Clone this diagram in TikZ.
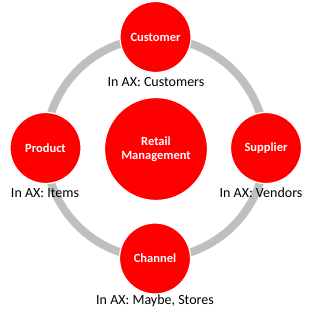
\documentclass[tikz,border=0pt]{standalone}
\usepackage{fontspec}
\setmainfont{Carlito}
\definecolor{retailred}{RGB}{255,0,0}
\definecolor{ringgray}{RGB}{191,191,191}

\tikzset{
  entity/.style={circle, fill=retailred, draw=white, line width=1.2pt,
    minimum size=71pt, inner sep=0pt, text=white, font=\fontsize{12.5}{14}\selectfont\bfseries},
  axlabel/.style={font=\fontsize{14}{15}\selectfont, inner sep=0pt}
}

\begin{document}
\begin{tikzpicture}[x=1pt, y=-1pt]
    \useasboundingbox (0,0) rectangle (308,320);

    % Grey ring behind everything
    \draw[ringgray, line width=8pt] (155.5,148) circle (110);

    % Centre
    \node[entity, minimum size=103pt, align=center] (retail) at (156,149) {Retail\\Management};

    % Four entities on the ring
    \node[entity] (cust) at (155.5,37) {Customer};
    \node[entity] (prod) at (45.5,148) {Product};
    \node[entity] (supp) at (266,148) {Supplier};
    \node[entity] (chan) at (155,258.5) {Channel};

    % What they are called in AX
    \node[axlabel] (custax) at (156,82) {In AX: Customers};
    \node[axlabel] (prodax) at (45,193.5) {In AX: Items};
    \node[axlabel] (suppax) at (261,192.5) {In AX: Vendors};
    \node[axlabel] (chanax) at (155,300.5) {In AX: Maybe, Stores};
\end{tikzpicture}
\end{document}
